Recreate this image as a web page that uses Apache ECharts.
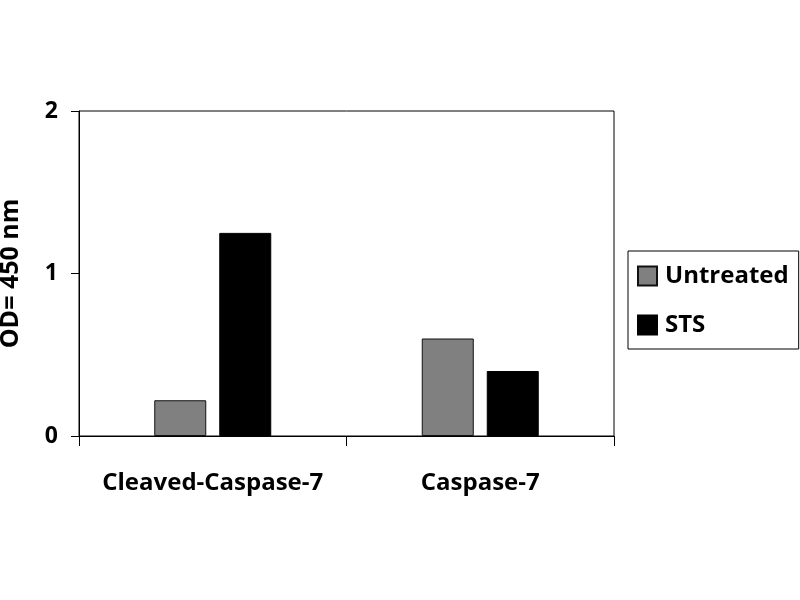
<!DOCTYPE html>
<html><head><meta charset="utf-8">
<script src="https://cdn.jsdelivr.net/npm/echarts@6/dist/echarts.min.js"></script>
<style>html,body{margin:0;padding:0;background:#fff}#c{width:800px;height:600px}</style>
</head><body><div id="c"></div>
<script>
const categories = ['Cleaved-Caspase-7', 'Caspase-7'];
const untreated = [0.22, 0.60];
const sts = [1.25, 0.40];
const yTicks = [0, 1, 2];
const FONT = 'Open Sans';
const chart = echarts.init(document.getElementById('c'));
chart.setOption({
  animation: false,
  backgroundColor: '#fff',
  grid: { left: 79, top: 111, right: 186, bottom: 164, show: true, borderColor: '#000', borderWidth: 1,
          containLabel: false, outerBoundsMode: 'none' },
  legend: {
    orient: 'vertical', left: 628, top: 251,
    borderColor: '#000', borderWidth: 1,
    padding: [13, 10, 12, 9],
    itemWidth: 19, itemHeight: 19, itemGap: 25,
    icon: 'rect',
    textStyle: { fontFamily: FONT, fontWeight: 'bold', fontSize: 24, color: '#000', padding: [0, 0, 0, 3] },
    data: ['Untreated', 'STS']
  },
  xAxis: {
    type: 'category', data: categories,
    axisLine: { lineStyle: { color: '#000', width: 1 } },
    axisTick: { show: true, length: 10, lineStyle: { color: '#000' } },
    axisLabel: { interval: 0, fontFamily: FONT, fontWeight: 'bold', fontSize: 24, color: '#000', margin: 35 },
    splitLine: { show: false }
  },
  yAxis: {
    type: 'value', min: 0, max: 2, interval: 1,
    name: 'OD= 450 nm', nameLocation: 'middle', nameGap: 56, nameRotate: 90,
    nameTextStyle: { fontFamily: FONT, fontWeight: 'bold', fontSize: 25, color: '#000' },
    axisLine: { show: true, lineStyle: { color: '#000', width: 1 } },
    axisTick: { show: true, length: 8, lineStyle: { color: '#000' } },
    axisLabel: { fontFamily: FONT, fontWeight: 'bold', fontSize: 23, color: '#000', margin: 21,
      formatter: v => yTicks.includes(v) ? String(v) : '' },
    splitLine: { show: false }
  },
  series: [
    { name: 'Untreated', type: 'bar', data: untreated, barWidth: 52, barGap: '25%',
      itemStyle: { color: '#808080', borderColor: '#111', borderWidth: 1 } },
    { name: 'STS', type: 'bar', data: sts, barWidth: 52,
      itemStyle: { color: '#000', borderColor: '#000', borderWidth: 1 } }
  ]
});
</script></body></html>
